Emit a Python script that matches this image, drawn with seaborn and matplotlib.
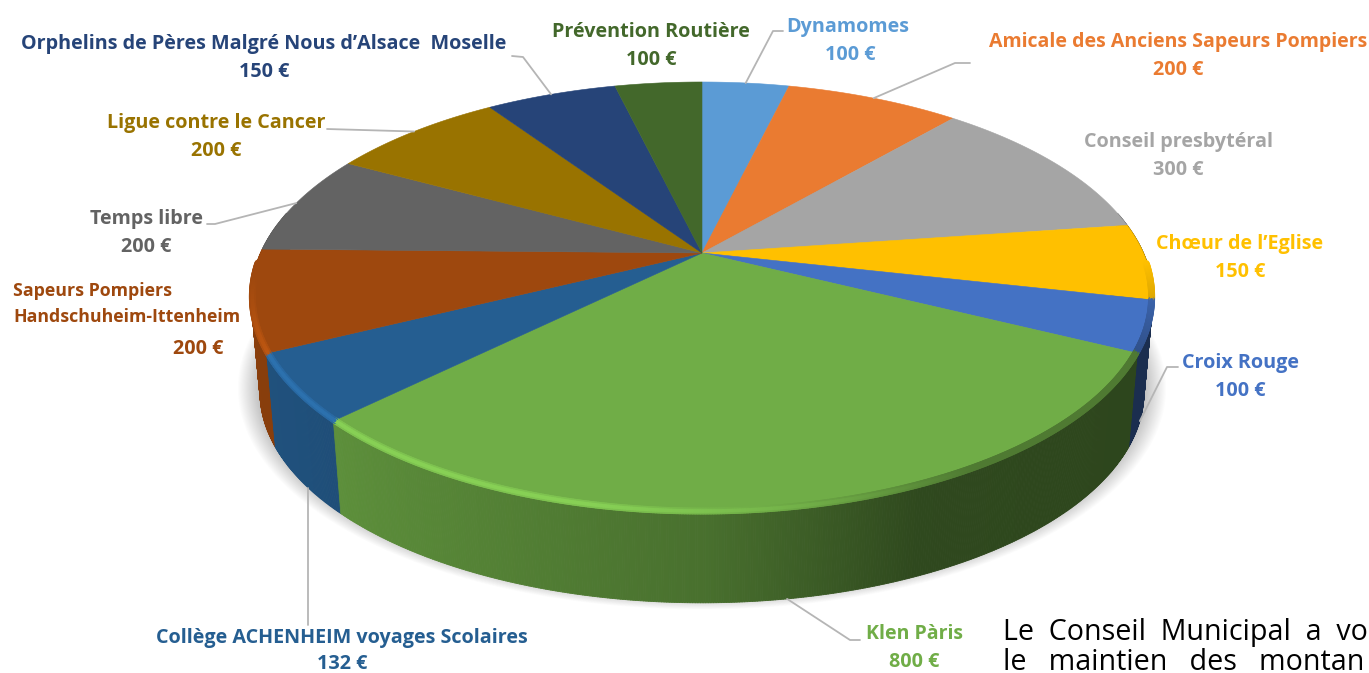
import numpy as np
import matplotlib
matplotlib.use("Agg")
import matplotlib.pyplot as plt
import seaborn as sns
from matplotlib.collections import PolyCollection, LineCollection

# --- Data ---
names = ["Dynamomes", "Amicale des Anciens Sapeurs Pompiers", "Conseil presbytéral",
         "Chœur de l’Eglise", "Croix Rouge", "Klen Pàris",
         "Collège ACHENHEIM voyages Scolaires", "Sapeurs Pompiers\nHandschuheim-Ittenheim",
         "Temps libre", "Ligue contre le Cancer",
         "Orphelins de Pères Malgré Nous d’Alsace  Moselle", "Prévention Routière"]
amounts = [100, 200, 300, 150, 100, 800, 132, 200, 200, 200, 150, 100]
colors = ["#5b9bd5", "#ea7b31", "#a5a5a5", "#ffc000", "#4472c4", "#70ad47",
          "#255e91", "#9e480e", "#636363", "#997300", "#264478", "#43682b"]

# --- Layout (pixels) ---
name_pos = [(848, 32), (1178, 47), (1178, 147), (1240, 249), (1240, 368), (914, 639),
            (342, 643), (13, 296), (146, 224), (216, 128), (264, 49), (651, 37)]
value_pos = [(850, 60), (1178, 75), (1178, 175), (1240, 277), (1240, 396), (914, 667),
             (342, 669), (198, 354), (146, 252), (216, 156), (264, 77), (651, 65)]
name_sizes = [14.2, 14.0, 14.2, 14.2, 14.2, 14.0, 14.2, 12.8, 14.2, 14.2, 14.2, 14.2]
# label side of the leader, then its elbow; last item says where it lands on the pie
leaders = {0: ((783, 31), (773, 31), "rim"), 1: ((970, 63), (955, 63), "rim"),
           4: ((1178, 367), (1167, 367), "base"), 5: ((860, 640), (850, 640), "base"),
           6: ((308, 625), (308, 625), "vertical"), 8: ((207, 224), (215, 224), "rim"),
           9: ((327, 129), (327, 129), "rim"), 10: ((512, 56), (523, 57), "rim")}

CX, CY = 702, 253
PERSP, DEPTH_A, DEPTH_K = 0.2046, 206, 441.5
BASE_SCALE, BASE_DROP = 0.98, 96

sns.set_theme(style="white")
plt.rcParams["font.family"] = ["Open Sans", "DejaVu Sans"]
palette = sns.color_palette(colors)


def project(theta, r=1.0, scale=1.0, drop=0.0):
    # theta is clockwise from 12 o'clock, circle seen in perspective
    u, v = r * np.sin(theta), r * np.cos(theta)
    w = 1 + PERSP * v
    return CX + scale * DEPTH_K * u / w, CY - scale * DEPTH_A * v / w + drop


def shade(theta):
    return np.interp(np.sin(theta), [-1, -0.8, 0, 0.4, 1], [0.87, 0.85, 0.65, 0.42, 0.40])


fig = plt.figure(figsize=(13.69, 6.73), dpi=100)
ax = fig.add_axes([0, 0, 1, 1])
ax.set_xlim(0, 1369)
ax.set_ylim(673, 0)
ax.axis("off")

edges = np.cumsum([0] + amounts) / sum(amounts) * 2 * np.pi

# soft shadow under the pie
ring = np.linspace(0, 2 * np.pi, 240)
for k in np.linspace(1.05, 1.0, 22):
    sx, sy = project(ring, scale=BASE_SCALE * k, drop=BASE_DROP - 6)
    ax.fill(sx, sy, color="black", alpha=0.01, lw=0, zorder=1)

# side wall, back to front
quads, wall_cols = [], []
for i, col in enumerate(palette):
    th = np.linspace(edges[i], edges[i + 1], max(int(amounts[i] / 2), 4))
    for a, b in zip(th[:-1], th[1:]):
        m = (a + b) / 2
        if np.cos(m) > 0.2:
            continue
        xa, ya = project(a)
        xb, yb = project(b)
        xc, yc = project(b, scale=BASE_SCALE, drop=BASE_DROP)
        xd, yd = project(a, scale=BASE_SCALE, drop=BASE_DROP)
        quads.append((m, [(xa, ya), (xb, yb), (xc, yc), (xd, yd)]))
        wall_cols.append(tuple(np.array(col) * shade(m)))
order = np.argsort([-np.cos(q[0]) for q in quads])
pc = PolyCollection([quads[j][1] for j in order], facecolors=[wall_cols[j] for j in order],
                    edgecolors=[wall_cols[j] for j in order], linewidths=0.6, zorder=2)
ax.add_collection(pc)

# top face
for i, col in enumerate(palette):
    th = np.linspace(edges[i], edges[i + 1], 120)
    x, y = project(th)
    ax.fill(np.r_[CX, x], np.r_[CY, y], color=col, lw=0.4, zorder=3)

# bevel along the front rim, wide faint pass then narrow one
for width, strength in [(5.0, 0.45), (2.6, 0.75)]:
    segs, seg_cols = [], []
    for i, col in enumerate(palette):
        th = np.linspace(edges[i], edges[i + 1], max(int(amounts[i] / 2), 4))
        x, y = project(th, r=0.997)
        for j in range(len(th) - 1):
            m = (th[j] + th[j + 1]) / 2
            if np.cos(m) > -0.05:
                continue
            h = np.interp(np.sin(m), [-1, -0.2, 0.5, 1], [1, 1, 0, 0])
            h *= np.interp(np.cos(m), [-0.45, -0.1], [1, 0]) * strength
            q = np.interp(np.sin(m), [-0.2, 0.5], [0, 1]) * np.interp(np.cos(m), [-0.45, -0.05], [1, 0])
            c = np.array(col)
            light = np.clip(c * 1.27, 0, 1)
            soft = (c + c * shade(m)) / 2
            base = c * (1 - q) + soft * q
            segs.append([(x[j], y[j]), (x[j + 1], y[j + 1])])
            seg_cols.append(tuple(light * h + base * (1 - h)))
    ax.add_collection(LineCollection(segs, colors=seg_cols, linewidths=width, zorder=4,
                                     capstyle="round"))

# leaders
for i, (start, elbow, where) in leaders.items():
    m = (edges[i] + edges[i + 1]) / 2
    if where == "rim":
        ex, ey = project(m)
    elif where == "base":
        ex, ey = project(m, scale=BASE_SCALE, drop=BASE_DROP)
    else:
        th = np.linspace(edges[i], edges[i + 1], 200)
        bx, by = project(th, scale=BASE_SCALE, drop=BASE_DROP)
        ex, ey = start[0], by[np.argmin(np.abs(bx - start[0]))]
    ax.plot([start[0], elbow[0], ex], [start[1], elbow[1], ey], color="#b5b5b5", lw=1.3, zorder=5)

# labels
for i, col in enumerate(palette):
    x, y = name_pos[i]
    if "\n" in names[i]:
        for n, line in enumerate(names[i].split("\n")):
            ax.text(x, y + 26 * n, line, color=col, fontsize=name_sizes[i], fontweight="bold", ha="left")
    else:
        ax.text(x, y, names[i], color=col, fontsize=name_sizes[i], fontweight="bold", ha="center")
    vx, vy = value_pos[i]
    ax.text(vx, vy, f"{amounts[i]} €", color=col, fontsize=14.2, fontweight="bold", ha="center")

ax.text(1003, 640, "Le  Conseil  Municipal  a  vo", color="black", fontsize=20.6)
ax.text(1003, 670, "le   maintien   des   montan", color="black", fontsize=20.6)

fig.savefig("out.png", dpi=100)
